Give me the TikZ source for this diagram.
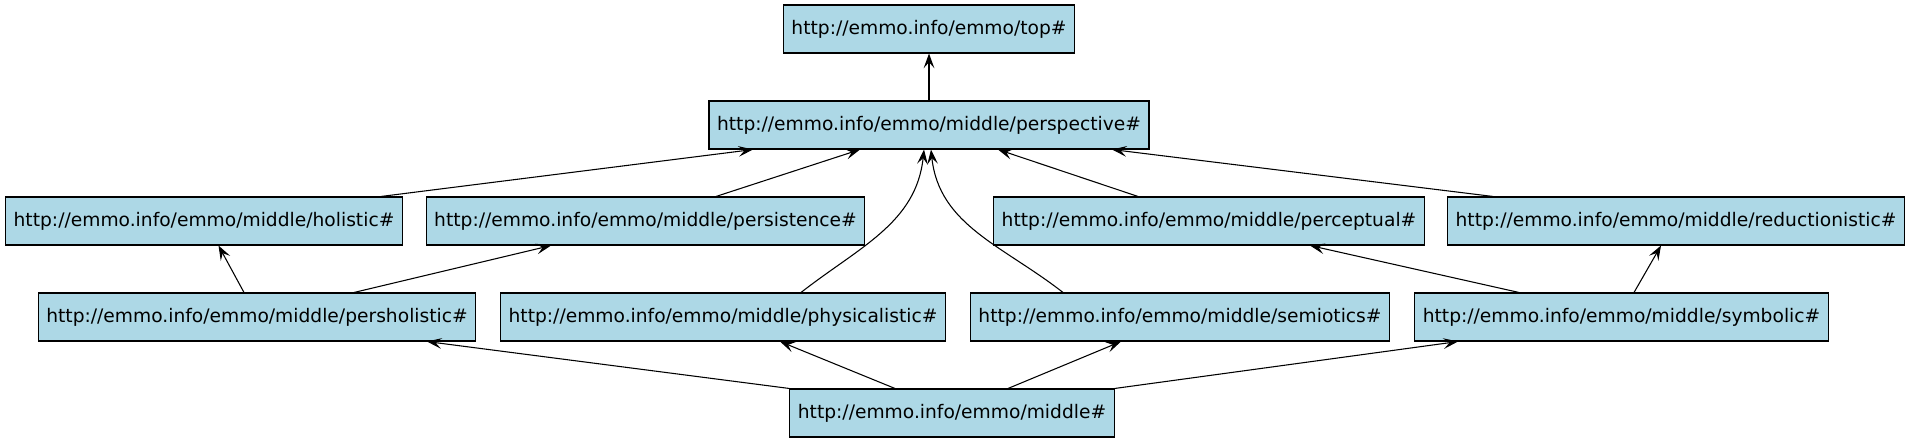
\documentclass[tikz,border=0pt]{standalone}
\usepackage{fontspec}
\setmainfont{DejaVu Sans}
\usetikzlibrary{calc,arrows.meta,positioning}
\definecolor{nodeblue}{RGB}{173,216,230}

\begin{document}
\begin{tikzpicture}[x=0.75pt, y=-0.75pt, font=\fontsize{14pt}{16pt}\selectfont,
  box/.style={draw, fill=nodeblue, line width=0.8pt, inner xsep=6pt,
              minimum height=36pt},
  edge/.style={line width=0.8pt, -{Stealth[length=11pt, width=8pt, inset=4.5pt]}},
  ]

% fixed frame, same proportions as the drawing
\useasboundingbox (0,0) rectangle (1909,443);

% ======================================================================
% Rows (y in px)
% ======================================================================
\def\rowA{29}
\def\rowB{125}
\def\rowC{221}
\def\rowD{317}
\def\rowE{413}

% --- top and perspective ---
\node[box] (top) at (929, \rowA) {http://emmo.info/emmo/top\#};
\node[box] (perspective) at (929, \rowB) {http://emmo.info/emmo/middle/perspective\#};

% --- third row ---
\node[box] (holistic) at (204, \rowC) {http://emmo.info/emmo/middle/holistic\#};
\node[box] (persistence) at (645.5, \rowC) {http://emmo.info/emmo/middle/persistence\#};
\node[box] (perceptual) at (1209, \rowC) {http://emmo.info/emmo/middle/perceptual\#};
\node[box] (reductionistic) at (1676, \rowC) {http://emmo.info/emmo/middle/reductionistic\#};

% --- fourth row ---
\node[box] (persholistic) at (257, \rowD) {http://emmo.info/emmo/middle/persholistic\#};
\node[box] (physicalistic) at (723, \rowD) {http://emmo.info/emmo/middle/physicalistic\#};
\node[box] (semiotics) at (1180, \rowD) {http://emmo.info/emmo/middle/semiotics\#};
\node[box] (symbolic) at (1621.5, \rowD) {http://emmo.info/emmo/middle/symbolic\#};

% --- bottom ---
\node[box] (middle) at (952, \rowE) {http://emmo.info/emmo/middle\#};

% ======================================================================
% Imports (arrow points at the imported module)
% ======================================================================
\draw[edge] (perspective.north) -- (top.south);

% child/start-offset/parent/end-offset
\foreach \c/\a/\p/\b in {holistic/177/perspective/-176,
                         persistence/70.5/perspective/-69,
                         perceptual/-71/perspective/69,
                         reductionistic/-183/perspective/183,
                         persholistic/-13/holistic/14.5,
                         persholistic/97/persistence/-94.5,
                         symbolic/-102.5/perceptual/101,
                         symbolic/12.5/reductionistic/-15,
                         middle/-57/physicalistic/57,
                         middle/56/semiotics/-59} {
  \draw[edge] ($(\c.north)+(\a,0)$) -- ($(\p.south)+(\b,0)$);
}

% corners of the bottom box
\draw[edge] (middle.north west) -- ($(persholistic.south)+(170,0)$);
\draw[edge] (middle.north east) -- ($(symbolic.south)+(-163.5,0)$);

% curved ones
\draw[edge] ($(physicalistic.north)+(78,0)$)
  to[out=38, in=-96] ($(perspective.south)+(-5,0)$);
\draw[edge] ($(semiotics.north)+(-117,0)$)
  to[out=142, in=-84] ($(perspective.south)+(2,0)$);

\end{tikzpicture}
\end{document}
